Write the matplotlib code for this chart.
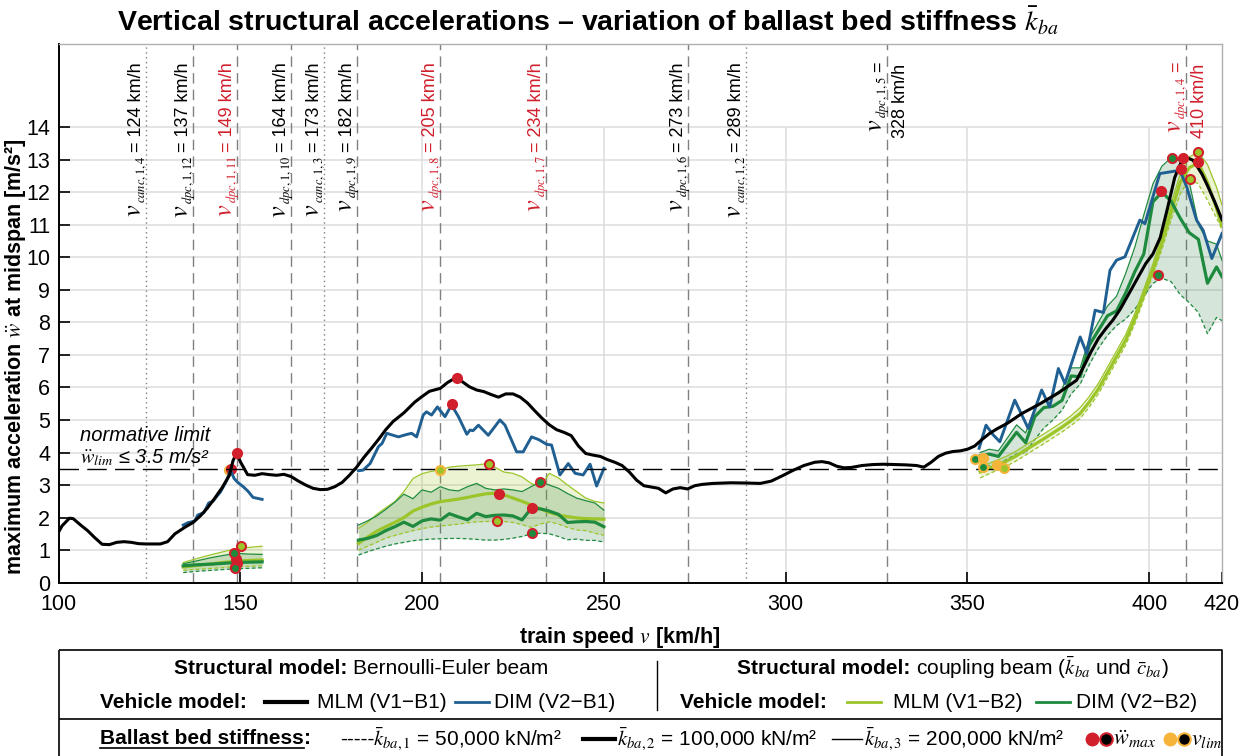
import numpy as np
import matplotlib
matplotlib.use("Agg")
import matplotlib.pyplot as plt

plt.rcParams['font.family'] = ['Liberation Sans', 'DejaVu Sans']
plt.rcParams['mathtext.fontset'] = 'stix'

# ---------------- data ----------------
# Bernoulli-Euler beam, MLM (V1-B1), k_ba,2
mlm_b1_v = [100, 101, 103, 104, 106, 108, 110, 112, 114, 116, 118, 120, 122, 124, 126, 128, 130, 132, 135, 137,
            139, 141, 143, 145, 147, 148, 149, 150, 151, 152, 154, 156, 158, 160, 162, 164, 166, 168, 170, 172,
            174, 176, 178, 180, 182, 184, 186, 188, 190, 192, 195, 198, 200, 202, 205, 207, 209, 211, 213, 215,
            217, 219, 221, 223, 225, 227, 229, 231, 233, 235, 237, 239, 241, 243, 245, 247, 249, 251, 253, 255,
            257, 259, 261, 263, 265, 267, 269, 271, 273, 275, 277, 280, 285, 290, 293, 296, 299, 302, 305, 308,
            310, 312, 314, 316, 318, 321, 324, 327, 330, 333, 336, 338, 340, 342, 344, 346, 348, 350, 352, 354,
            356, 358, 361, 365, 370, 375, 380, 382, 384, 386, 388, 390, 392, 394, 397, 399, 401, 403, 405, 407,
            409, 410.5, 412, 413, 414.5, 416, 418, 420]
mlm_b1_a = [1.55, 1.75, 1.98, 1.97, 1.78, 1.60, 1.38, 1.18, 1.17, 1.24, 1.26, 1.24, 1.20, 1.19, 1.19, 1.19, 1.26, 1.50, 1.72, 1.85,
            2.05, 2.30, 2.60, 2.92, 3.30, 3.75, 3.98, 3.72, 3.52, 3.32, 3.30, 3.35, 3.32, 3.30, 3.33, 3.26, 3.12, 3.00, 2.90, 2.86,
            2.87, 2.95, 3.08, 3.30, 3.55, 3.85, 4.12, 4.40, 4.70, 4.95, 5.22, 5.55, 5.72, 5.88, 5.97, 6.15, 6.28, 6.18, 6.02, 5.92,
            5.87, 5.78, 5.70, 5.80, 5.80, 5.70, 5.52, 5.28, 5.05, 4.85, 4.70, 4.62, 4.52, 4.20, 3.97, 3.92, 3.88, 3.78, 3.70, 3.60,
            3.40, 3.15, 2.98, 2.94, 2.90, 2.76, 2.88, 2.92, 2.88, 2.98, 3.02, 3.05, 3.07, 3.06, 3.05, 3.12, 3.28, 3.45, 3.60, 3.70,
            3.72, 3.68, 3.58, 3.53, 3.54, 3.60, 3.63, 3.64, 3.63, 3.62, 3.60, 3.55, 3.70, 3.88, 3.98, 4.03, 4.05, 4.10, 4.20, 4.40,
            4.58, 4.72, 4.90, 5.20, 5.50, 5.83, 6.22, 6.65, 7.10, 7.50, 7.80, 8.07, 8.40, 8.80, 9.40, 9.80, 10.10, 10.60, 11.50, 12.45,
            12.98, 13.05, 12.98, 12.82, 12.55, 12.20, 11.70, 11.15]

# Bernoulli-Euler beam, DIM (V2-B1), k_ba,2 (NaN separates the three speed ranges)
dim_b1_v = [134.3, 135.5, 136.6, 137.5, 138.3, 140, 141.3, 142.5, 143.5, 144.5, 145.5, 146.3, 147.3, 148.3, 149.3, 150.8, 152.2, 153.5, 156,
            np.nan,
            182.5, 183.8, 185.7, 188, 189, 190.3, 191.7, 193.5, 195.3, 197.1, 198.5, 200.3, 201.2, 202.6, 204.2, 206.3, 208.1, 210,
            212.3, 213.2, 214, 215.5, 218.2, 221.4, 222.8, 226, 227.8, 230.1, 232, 234.3, 235.6, 237.9, 240.2, 242.1, 244.3, 246.2, 248, 250,
            np.nan,
            353.2, 355.1, 357, 358.9, 363, 366.7, 370.4, 372.6, 375, 376.8, 381, 382.8, 385.1, 387.4, 389.2, 391, 393.3, 397.4, 398.8,
            402.9, 405.7, 408.4, 410.3, 413, 414.8, 417.2, 420]
dim_b1_a = [1.77, 1.84, 1.87, 1.90, 2.08, 2.15, 2.45, 2.50, 2.65, 2.78, 2.98, 3.15, 3.46, 3.20, 3.08, 2.95, 2.80, 2.62, 2.56,
            np.nan,
            3.44, 3.46, 3.66, 4.18, 4.28, 4.59, 4.54, 4.48, 4.54, 4.59, 4.48, 5.15, 5.25, 5.15, 5.40, 5.10, 5.46, 5.10,
            4.56, 4.69, 4.67, 4.84, 4.53, 5.00, 4.84, 4.02, 4.02, 4.48, 4.40, 4.25, 4.23, 3.31, 3.66, 3.36, 3.31, 3.64, 2.97, 3.51,
            np.nan,
            4.13, 4.84, 4.55, 4.33, 5.61, 4.74, 5.92, 5.40, 6.58, 6.12, 7.55, 7.04, 8.37, 8.30, 9.60, 9.91, 10.01, 11.14, 11.03,
            12.57, 12.62, 12.67, 12.16, 11.14, 10.83, 9.96, 10.73]

# Coupling beam -- speed range 1
r1_v = [134.3, 138, 142, 146, 149, 152, 156]
r1_mlm_k1 = [0.38, 0.41, 0.44, 0.47, 0.49, 0.50, 0.52]
r1_mlm_k2 = [0.48, 0.53, 0.58, 0.63, 0.66, 0.68, 0.70]
r1_mlm_k3 = [0.62, 0.74, 0.86, 0.97, 1.05, 1.08, 1.12]
r1_dim_k1 = [0.31, 0.35, 0.38, 0.41, 0.43, 0.44, 0.46]
r1_dim_k2 = [0.52, 0.55, 0.57, 0.60, 0.62, 0.63, 0.64]
r1_dim_k3 = [0.58, 0.67, 0.77, 0.85, 0.90, 0.88, 0.87]

# Coupling beam -- speed range 2
r2_v = [182.5, 185, 187.5, 190, 192.5, 195, 197.5, 200, 202.5, 205, 207.5, 210, 212.5, 215,
        217.5, 220, 222.5, 225, 227.5, 230, 232.5, 235, 237.5, 240, 242.5, 245, 247.5, 250]
r2_mlm_k1 = [1.00, 1.12, 1.24, 1.37, 1.45, 1.53, 1.60, 1.66, 1.71, 1.74, 1.77, 1.80, 1.84, 1.87,
             1.88, 1.89, 1.88, 1.85, 1.78, 1.70, 1.80, 1.87, 1.80, 1.70, 1.62, 1.60, 1.52, 1.46]
r2_mlm_k2 = [1.21, 1.40, 1.58, 1.72, 1.85, 2.00, 2.20, 2.32, 2.42, 2.49, 2.53, 2.57, 2.62, 2.68,
             2.73, 2.75, 2.70, 2.60, 2.50, 2.39, 2.27, 2.16, 2.08, 2.03, 1.99, 1.97, 1.96, 1.95]
r2_mlm_k3 = [1.67, 1.85, 2.10, 2.30, 2.49, 2.80, 3.20, 3.35, 3.42, 3.47, 3.55, 3.58, 3.60, 3.62,
             3.65, 3.55, 3.40, 3.36, 3.25, 3.05, 2.95, 3.36, 3.22, 3.00, 2.80, 2.60, 2.50, 2.45]
r2_dim_k1 = [0.85, 0.95, 1.04, 1.12, 1.19, 1.24, 1.29, 1.32, 1.34, 1.35, 1.36, 1.36, 1.35, 1.33,
             1.31, 1.31, 1.33, 1.37, 1.42, 1.50, 1.52, 1.50, 1.42, 1.32, 1.34, 1.30, 1.30, 1.25]
r2_dim_k2 = [1.31, 1.36, 1.45, 1.60, 1.72, 1.86, 1.73, 1.90, 1.96, 1.92, 2.12, 2.02, 1.93, 2.13,
             2.03, 2.07, 2.08, 2.05, 1.93, 2.28, 2.27, 2.20, 2.10, 1.85, 1.87, 1.88, 1.86, 1.72]
r2_dim_k3 = [1.77, 1.90, 2.05, 2.25, 2.47, 2.72, 2.58, 2.85, 2.78, 2.95, 2.85, 2.82, 2.95, 3.05,
             2.90, 2.85, 2.88, 2.85, 2.80, 2.95, 3.10, 3.00, 2.90, 2.74, 2.60, 2.52, 2.45, 2.23]

# Coupling beam -- speed range 3
r3_v = [353.5, 356, 358.5, 361, 363.5, 366, 368.5, 371, 373.5, 376, 378.5, 381, 383.5, 386,
        388.5, 391, 393.5, 396, 398.5, 401, 403.5, 406, 408.5, 411, 413.5, 416, 418.5, 420]
r3_mlm_k1 = [3.22, 3.35, 3.47, 3.60, 3.75, 3.92, 4.10, 4.27, 4.45, 4.63, 4.83, 5.05, 5.40, 5.80,
             6.30, 6.80, 7.30, 7.95, 8.70, 9.45, 10.25, 11.15, 11.95, 12.40, 12.25, 11.75, 11.20, 10.85]
r3_mlm_k2 = [3.40, 3.52, 3.63, 3.75, 3.90, 4.08, 4.25, 4.42, 4.60, 4.78, 4.98, 5.20, 5.55, 5.95,
             6.45, 6.95, 7.45, 8.10, 8.85, 9.60, 10.45, 11.40, 12.30, 12.75, 12.90, 12.30, 11.50, 10.95]
r3_mlm_k3 = [3.55, 3.67, 3.78, 3.90, 4.05, 4.23, 4.40, 4.57, 4.75, 4.93, 5.13, 5.38, 5.72, 6.12,
             6.62, 7.12, 7.62, 8.27, 9.02, 9.80, 10.65, 11.65, 12.55, 13.08, 13.22, 12.85, 12.15, 11.60]
r3_dim_k1 = [3.50, 3.60, 3.65, 3.80, 3.95, 4.00, 4.40, 4.75, 5.00, 5.30, 5.80, 6.10, 6.70, 7.20,
             7.60, 7.90, 8.10, 8.40, 8.80, 9.20, 9.35, 9.25, 8.85, 8.60, 8.30, 7.65, 8.15, 8.05]
r3_dim_k2 = [3.90, 3.95, 3.88, 4.25, 4.62, 4.30, 5.10, 5.38, 5.42, 5.60, 6.35, 6.33, 7.30, 7.75,
             8.20, 8.35, 8.90, 9.55, 10.10, 11.70, 12.00, 11.72, 11.20, 10.75, 10.55, 9.20, 9.70, 9.40]
r3_dim_k3 = [4.00, 4.10, 4.05, 4.45, 4.85, 4.60, 5.35, 5.60, 5.75, 5.95, 6.60, 6.60, 7.50, 8.00,
             8.50, 8.80, 9.50, 10.30, 11.30, 12.25, 12.80, 13.05, 12.95, 12.30, 11.00, 10.50, 10.40, 9.90]

# maxima (w_max markers): speed, acceleration, model
wmax_v = [149.1, 209.7, 409.4, 147.5, 208.1, 408.6,
          150.1, 148.8, 148.6, 148.2, 149.0, 148.6,
          218.3, 221.1, 220.5, 232.3, 230.1, 230.2,
          413.3, 413.3, 411.2, 406.3, 403.2, 402.5]
wmax_a = [3.97, 6.30, 13.06, 3.48, 5.50, 12.72,
          1.12, 0.72, 0.49, 0.90, 0.62, 0.44,
          3.66, 2.74, 1.89, 3.10, 2.28, 1.52,
          13.23, 12.93, 12.41, 13.06, 12.03, 9.45]
wmax_model = ['B1', 'B1', 'B1', 'B1', 'B1', 'B1',
              'MLM', 'red', 'MLM', 'DIM', 'red', 'DIM',
              'MLM', 'red', 'MLM', 'DIM', 'red', 'DIM',
              'MLM', 'red', 'MLM', 'DIM', 'red', 'DIM']
# limit speeds (v_lim markers)
vlim_v = [146.8, 205.0, 352.1, 354.3, 354.2, 358.2, 360.1]
vlim_a = [3.45, 3.47, 3.79, 3.82, 3.56, 3.61, 3.53]
vlim_model = ['orange', 'MLM', 'DIM', 'orange', 'DIM', 'orange', 'MLM']

# critical speeds
crit_speeds = [124, 137, 149, 164, 173, 182, 205, 234, 273, 289, 328, 410]
crit_names = ['canc,1,4', 'dpc,1,12', 'dpc,1,11', 'dpc,1,10', 'canc,1,3', 'dpc,1,9',
              'dpc,1,8', 'dpc,1,7', 'dpc,1,6', 'canc,1,2', 'dpc,1,5', 'dpc,1,4']
crit_relevant = [False, False, True, False, False, False, True, True, False, False, False, True]
crit_wrap = [False] * 10 + [True, True]

x_ticks = [100, 150, 200, 250, 300, 350, 400, 420]
y_ticks = list(range(0, 15))
a_limit = 3.5

# ---------------- styles ----------------
C_BLUE = '#1f5f92'
C_LG = '#9cc52a'
C_DG = '#1e8a3e'
C_RED = '#d11f2c'
C_OR = '#f6b43a'
C_GRAY = '#808080'

fig = plt.figure(figsize=(12.47, 7.56), dpi=100)
ax = fig.add_axes([58.5 / 1247, 1 - 582.7 / 756, (1222 - 58.5) / 1247, (582.7 - 44) / 756])
ax.set_xlim(100, 420)
ax.set_ylim(0, 16.55)

# grid restricted to 0..14
ax.vlines(x_ticks[1:-1], 0, 14, color='#dcdcdc', lw=1.1, zorder=0)
ax.hlines(y_ticks[1:], 100, 420, color='#dcdcdc', lw=1.1, zorder=0)

for s in ['top', 'right']:
    ax.spines[s].set_color('#b0b0b0')
    ax.spines[s].set_linewidth(1.0)
for s in ['left', 'bottom']:
    ax.spines[s].set_color('black')
    ax.spines[s].set_linewidth(1.4)
ax.set_xticks(x_ticks)
ax.set_yticks(y_ticks)
ax.tick_params(direction='in', length=8, width=1.2, labelsize=15.5, pad=6)
ax.tick_params(axis='x', pad=8)

# critical speed lines
for v, name in zip(crit_speeds, crit_names):
    ls = (0, (1, 2.5)) if name.startswith('canc') else (0, (7.5, 4.5))
    ax.axvline(v, color=C_GRAY, lw=1.0, ls=ls, zorder=1)

# normative limit
ax.axhline(a_limit, color='black', lw=1.0, ls=(0, (14, 6)), zorder=6)
ax.text(106.0, 4.17, 'normative limit\n' + r'$\ddot{w}_{lim}$' + ' ≤ 3.5 m/s²', fontsize=14.5,
        style='italic', ha='left', va='center', linespacing=1.05, zorder=7)

# coupling beam results (fills + lines)
regions = [(r1_v, r1_mlm_k1, r1_mlm_k2, r1_mlm_k3, r1_dim_k1, r1_dim_k2, r1_dim_k3),
           (r2_v, r2_mlm_k1, r2_mlm_k2, r2_mlm_k3, r2_dim_k1, r2_dim_k2, r2_dim_k3),
           (r3_v, r3_mlm_k1, r3_mlm_k2, r3_mlm_k3, r3_dim_k1, r3_dim_k2, r3_dim_k3)]
for rv, mk1, mk2, mk3, dk1, dk2, dk3 in regions:
    ax.fill_between(rv, mk1, mk3, color='#a8cc3a', alpha=0.22, lw=0, zorder=2)
    ax.fill_between(rv, dk1, dk3, color='#2f7d45', alpha=0.2, lw=0, zorder=2)
    ax.plot(rv, mk1, color=C_LG, lw=0.9, ls=(0, (3, 2)), zorder=3)
    ax.plot(rv, dk1, color=C_DG, lw=0.9, ls=(0, (3, 2)), zorder=3)
    ax.plot(rv, mk3, color=C_LG, lw=0.9, zorder=3)
    ax.plot(rv, dk3, color=C_DG, lw=0.9, zorder=3)
    ax.plot(rv, mk2, color=C_LG, lw=2.3, zorder=4)
    ax.plot(rv, dk2, color=C_DG, lw=2.3, zorder=4)

# Bernoulli-Euler beam results
ax.plot(dim_b1_v, dim_b1_a, color=C_BLUE, lw=2.1, zorder=5)
ax.plot(mlm_b1_v, mlm_b1_a, color='black', lw=2.2, zorder=5.5)

# markers
face = {'B1': C_RED, 'red': C_RED, 'MLM': C_LG, 'DIM': C_DG, 'orange': C_OR}
for v, a, m in zip(wmax_v, wmax_a, wmax_model):
    z = 4.9 if (m == 'B1' and a < 3.6) else 8
    ax.plot(v, a, 'o', ms=6.5, mfc=face[m], mec=C_RED, mew=1.5, zorder=z)
for v, a, m in zip(vlim_v, vlim_a, vlim_model):
    z = 4.8 if v < 150 else 7.5
    ax.plot(v, a, 'o', ms=6.5, mfc=face[m], mec=C_OR, mew=1.5, zorder=z)

ax.set_ylabel(r'maximum acceleration $\ddot{w}$ at midspan [m/s²]', fontsize=15.5, fontweight='bold')
ax.yaxis.set_label_coords(-0.026, 0.42)
ax.set_xlabel(r'train speed $v$ [km/h]', fontsize=15.5, fontweight='bold')
ax.xaxis.set_label_coords(0.482, -0.078)

fig.text(588 / 1247, 1 - 21 / 756,
         r'Vertical structural accelerations – variation of ballast bed stiffness $\bar{k}_{ba}$',
         ha='center', va='center', fontsize=20.5, fontweight='bold')

# ---------------- overlay axes in pixel coordinates (labels + legend box) ----------------
lax = fig.add_axes([0, 0, 1, 1], facecolor='none')
lax.set_xlim(0, 1247)
lax.set_ylim(756, 0)
lax.axis('off')

fig.canvas.draw()
rend = fig.canvas.get_renderer()


def rot_text(x, ytop, s, **kw):
    """vertical text reading upwards whose end sits at (x, ytop); returns its length in px"""
    t = lax.text(x, ytop, s, rotation=90, rotation_mode='anchor', ha='right', va='baseline', **kw)
    return t.get_window_extent(renderer=rend).height


# critical speed labels: big italic v, small subscript, sans-serif value
Y_TOP = 62
for v, name, rel, wrap in zip(crit_speeds, crit_names, crit_relevant, crit_wrap):
    col = C_RED if rel else 'black'
    xl = ax.transData.transform((v, 0))[0]
    xb = xl - 5
    if wrap:
        L1 = rot_text(xb, Y_TOP, '=', fontsize=13, color=col)
        rot_text(xl + 18, Y_TOP + 2, f'{v} km/h', fontsize=13, color=col)
    else:
        L1 = rot_text(xb, Y_TOP, f'= {v} km/h', fontsize=13, color=col)
    y = Y_TOP + L1 + 4
    L2 = rot_text(xb + 4, y, r'$\mathit{' + name + '}$', fontsize=9, color=col)
    rot_text(xb, y + L2 + 1, r'$v$', fontsize=19, color=col)

# legend box
lk = dict(color='black', lw=1.2, solid_capstyle='butt')
lax.plot([58.5, 1222, 1222], [650, 650, 760], **lk)
lax.plot([58.5, 58.5], [650, 760], **lk)
lax.plot([58.5, 1222], [719, 719], **lk)
lax.plot([657, 657], [661, 710], color='black', lw=1.0)

fs = 15


def place(items, x, y, center=None):
    """items: ('t', string, kwargs, gap) | ('l', length, kwargs, gap)"""
    arts = []
    x0 = x
    for it in items:
        if it[0] == 't':
            t = lax.text(x, y, it[1], ha='left', va='center', fontsize=fs, **it[2])
            w = t.get_window_extent(renderer=rend).width
            arts.append(t)
            x += w + it[3]
        else:
            ln, = lax.plot([x, x + it[1]], [y, y], **it[2])
            arts.append(ln)
            x += it[1] + it[3]
    if center is not None:
        shift = center - (x0 + x) / 2
        for a in arts:
            if hasattr(a, 'set_x'):
                a.set_x(a.get_position()[0] + shift)
            else:
                a.set_xdata(np.asarray(a.get_xdata()) + shift)
    return x


B = dict(fontweight='bold')
N = dict()
r1y, r2y, r3y = 668, 702, 739
place([('t', 'Structural model:', B, 5), ('t', 'Bernoulli-Euler beam', N, 0)], 0, r1y, center=361)
place([('t', 'Structural model:', B, 5),
       ('t', r'coupling beam ($\bar{k}_{ba}$ und $\bar{c}_{ba}$)', N, 0)], 0, r1y, center=953)

place([('t', 'Vehicle model:', B, 18),
       ('l', 42, dict(color='black', lw=3.0), 10),
       ('t', 'MLM (V1−B1)', N, 8),
       ('l', 34, dict(color=C_BLUE, lw=2.0), 6),
       ('t', 'DIM (V2−B1)', N, 0)], 100, r2y)
place([('t', 'Vehicle model:', B, 20),
       ('l', 34, dict(color=C_LG, lw=2.0), 12),
       ('t', 'MLM (V1−B2)', N, 14),
       ('l', 34, dict(color=C_DG, lw=2.0), 6),
       ('t', 'DIM (V2−B2)', N, 0)], 680, r2y)

xend = place([('t', 'Ballast bed stiffness', B, 0)], 100, r3y)
lax.plot([100, xend], [r3y + 9, r3y + 9], color='black', lw=1.2)
place([('t', ':', B, 0)], xend, r3y)
lax.text(340, r3y, '-----', fontsize=fs, ha='left', va='center')
lax.text(373, r3y, r'$\bar{k}_{ba,1}$' + ' = 50,000 kN/m²', fontsize=fs, ha='left', va='center')
lax.plot([583, 615], [r3y, r3y], color='black', lw=3.0)
lax.text(617, r3y, r'$\bar{k}_{ba,2}$' + ' = 100,000 kN/m²', fontsize=fs, ha='left', va='center')
lax.plot([832, 862], [r3y, r3y], color='black', lw=1.0)
lax.text(864, r3y, r'$\bar{k}_{ba,3}$' + ' = 200,000 kN/m²', fontsize=fs, ha='left', va='center')
lax.plot([1092], [r3y], 'o', ms=9, mfc=C_RED, mec=C_RED)
lax.plot([1106], [r3y], 'o', ms=9, mfc='black', mec=C_RED, mew=1.5)
lax.text(1113, r3y, r'$\ddot{w}_{max}$', fontsize=fs + 1, ha='left', va='center')
lax.plot([1170], [r3y], 'o', ms=9, mfc=C_OR, mec=C_OR)
lax.plot([1184], [r3y], 'o', ms=9, mfc='black', mec=C_OR, mew=1.5)
lax.text(1191, r3y, r'$v_{lim}$', fontsize=fs + 1, ha='left', va='center')

fig.savefig('out.png', dpi=100)
